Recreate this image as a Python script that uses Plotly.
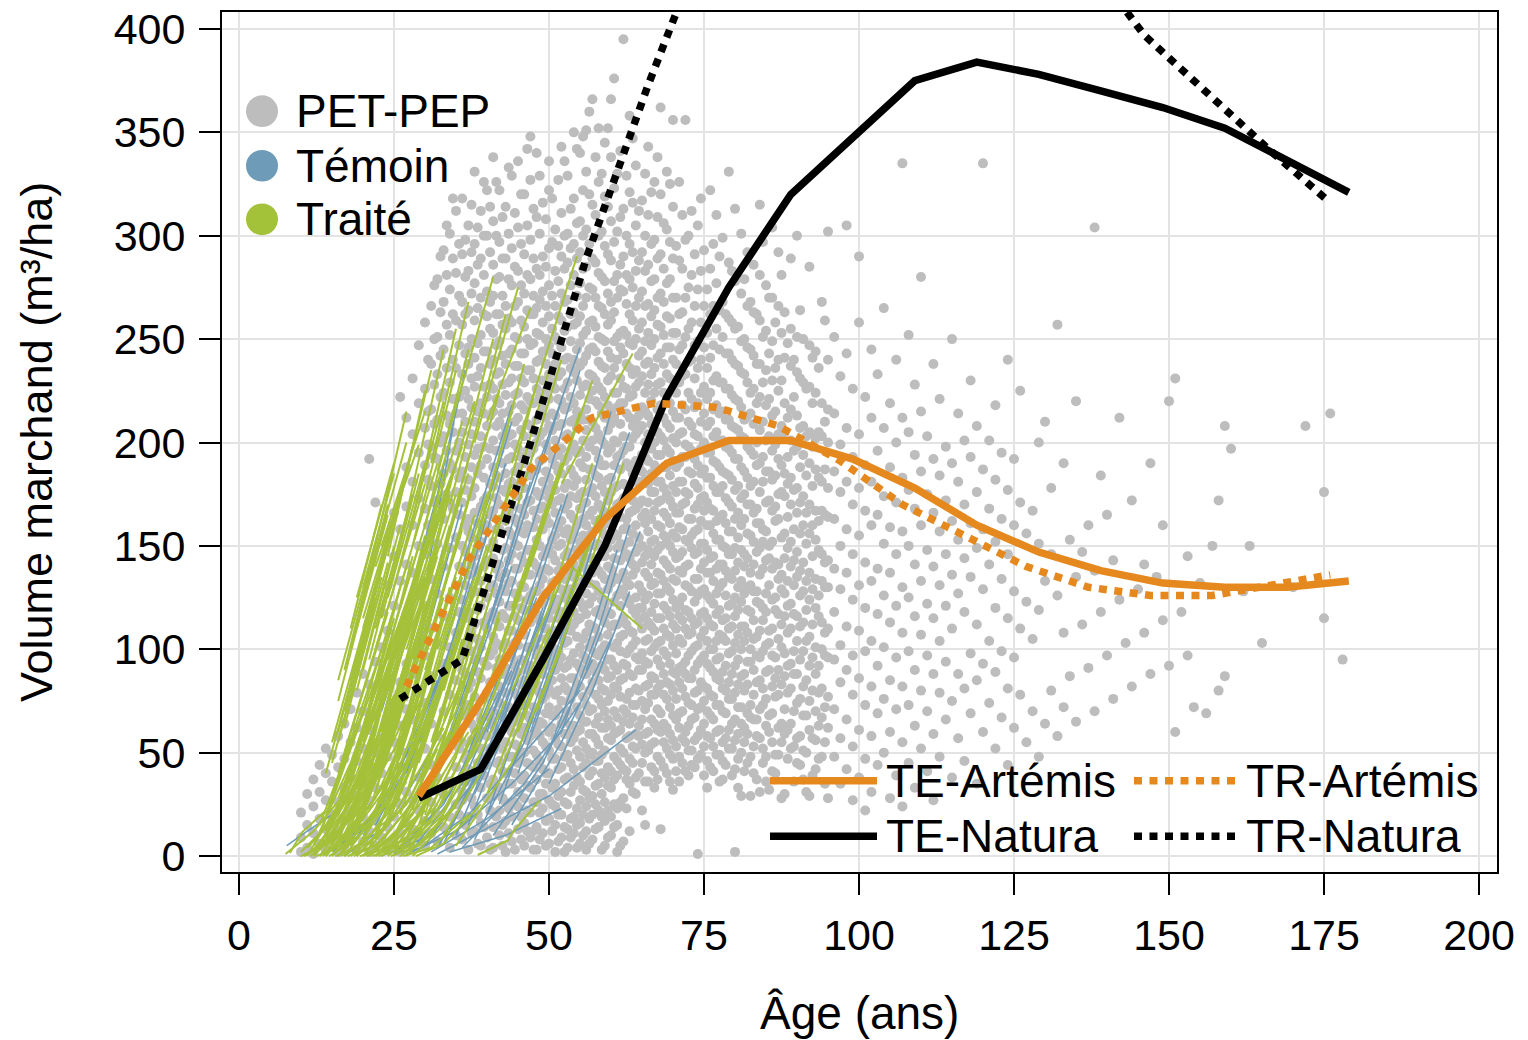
import plotly.graph_objects as go

# ---------------- data ----------------
x_ticks = [0, 25, 50, 75, 100, 125, 150, 175, 200]
y_ticks = [0, 50, 100, 150, 200, 250, 300, 350, 400]

# PET-PEP plots: (age, [volumes])
pet_young = [
    (10, [2, 9, 21]), (11, [4, 15, 30]), (12, [1, 11, 24, 37]), (13, [6, 18, 31, 44]),
    (14, [3, 13, 27, 40, 52]), (15, [8, 20, 36, 49]), (16, [2, 12, 26, 43, 58]),
    (17, [5, 17, 33, 47, 64]), (18, [9, 22, 38, 55, 71]), (19, [3, 14, 29, 46, 62, 79]),
    (20, [7, 19, 35, 52, 70, 88]), (21, [2, 12, 27, 44, 61, 83, 192]),
    (22, [5, 17, 33, 50, 68, 94, 171]), (23, [9, 24, 40, 57, 77, 101, 118]),
    (24, [3, 14, 30, 48, 66, 86, 109, 131]), (25, [6, 19, 36, 55, 74, 97, 121, 145, 166]),
    (26, [2, 11, 25, 43, 63, 84, 108, 133, 158, 222]),
    (27, [7, 16, 31, 50, 71, 93, 117, 141, 169, 188, 212]),
    (28, [4, 13, 27, 45, 66, 88, 112, 137, 160, 181, 204, 231]),
    (29, [9, 22, 38, 57, 79, 102, 126, 150, 173, 195, 219, 247]),
    (30, [5, 17, 33, 52, 74, 97, 121, 146, 168, 189, 207, 226, 258]),
    (31, [11, 26, 44, 64, 87, 110, 134, 157, 179, 198, 216, 238, 266]),
    (32, [7, 20, 38, 58, 80, 103, 127, 151, 172, 192, 211, 233, 251, 279]),
    (33, [14, 30, 49, 70, 93, 116, 140, 163, 185, 203, 224, 245, 268, 293]),
    (34, [4, 19, 36, 56, 78, 101, 125, 149, 171, 190, 209, 229, 252, 274, 301]),
    (30.5, [160, 182, 199, 215, 240]), (31.5, [171, 193, 209, 228, 250, 276]),
    (32.5, [180, 200, 222, 242, 263, 290]), (33.5, [175, 196, 213, 236, 257, 281, 305]),
    (34.5, [168, 187, 205, 221, 240, 262, 289, 318]),
]
pet_mid = [
    (35, [10, 25, 43, 63, 85, 108, 131, 154, 176, 196, 214, 236, 259, 282, 312]),
    (36, [8, 27, 31, 55, 68, 90, 97, 124, 139, 150, 171, 186, 205, 214, 233, 257, 268, 291, 318]),
    (37, [3, 19, 42, 49, 73, 81, 104, 118, 136, 157, 163, 182, 199, 221, 238, 246, 264, 283, 305]),
    (38, [12, 24, 37, 61, 77, 95, 112, 128, 145, 166, 178, 194, 210, 227, 241, 259, 277, 296, 331]),
    (39, [5, 16, 33, 52, 66, 86, 101, 121, 133, 152, 169, 189, 203, 219, 236, 252, 270, 289, 312]),
    (40, [9, 28, 44, 58, 79, 92, 110, 125, 143, 160, 174, 192, 208, 222, 244, 261, 273, 300, 322]),
    (41, [4, 14, 29, 37, 51, 63, 70, 84, 99, 106, 118, 131, 144, 152, 167, 179, 188, 201, 215, 226, 240, 253, 271, 286, 307, 338]),
    (42, [10, 22, 33, 46, 57, 74, 82, 95, 111, 123, 135, 141, 158, 170, 183, 196, 210, 219, 234, 249, 262, 280, 297, 322]),
    (43, [2, 17, 26, 40, 55, 66, 79, 91, 103, 115, 128, 137, 149, 162, 176, 185, 199, 207, 223, 238, 255, 266, 289, 314]),
    (44, [7, 19, 35, 48, 60, 71, 87, 96, 109, 121, 133, 146, 155, 169, 181, 193, 204, 218, 231, 245, 258, 276, 294, 329]),
    (45, [13, 24, 31, 45, 53, 68, 77, 89, 102, 114, 125, 139, 150, 161, 174, 188, 197, 212, 224, 237, 250, 268, 283, 304, 336]),
    (46, [5, 16, 28, 39, 50, 62, 73, 85, 94, 107, 119, 130, 142, 156, 165, 178, 190, 203, 216, 229, 243, 256, 272, 291, 320]),
    (47, [9, 21, 33, 44, 58, 66, 80, 92, 101, 113, 126, 136, 148, 159, 172, 184, 195, 208, 220, 235, 247, 262, 279, 298, 327, 348]),
    (48, [3, 14, 26, 37, 49, 61, 70, 83, 97, 105, 117, 128, 140, 153, 163, 176, 187, 200, 211, 226, 239, 253, 265, 284, 309, 340]),
    (49, [11, 23, 30, 42, 55, 64, 76, 88, 99, 111, 122, 134, 145, 158, 169, 181, 192, 205, 217, 230, 244, 258, 273, 290, 316]),
    (50, [6, 18, 27, 40, 51, 60, 72, 81, 94, 103, 115, 126, 138, 149, 161, 173, 183, 196, 208, 221, 233, 247, 261, 276, 294, 322, 336]),
    (51, [2, 15, 24, 35, 47, 57, 68, 78, 90, 100, 109, 121, 133, 143, 155, 166, 177, 189, 201, 213, 226, 238, 251, 266, 283, 303]),
    (52, [9, 20, 31, 43, 53, 64, 75, 86, 96, 107, 118, 129, 140, 151, 162, 173, 185, 197, 209, 220, 234, 246, 259, 272, 290, 311, 343]),
    (53, [4, 13, 25, 38, 49, 59, 70, 80, 92, 104, 113, 124, 136, 147, 158, 170, 180, 193, 204, 217, 229, 241, 256, 269, 287, 301, 329]),
    (54, [11, 19, 34, 42, 57, 63, 79, 86, 98, 112, 118, 135, 141, 156, 163, 179, 184, 199, 211, 219, 234, 240, 257, 263, 281, 296, 318, 350]),
    (55, [6, 16, 27, 36, 48, 61, 68, 82, 91, 101, 115, 123, 130, 146, 152, 168, 175, 190, 196, 214, 223, 237, 248, 261, 277, 292, 307, 340]),
    (56, [3, 12, 24, 31, 45, 52, 65, 73, 88, 95, 108, 117, 127, 139, 149, 160, 171, 182, 193, 206, 216, 228, 242, 254, 270, 285, 303, 331, 351]),
    (57, [8, 20, 29, 41, 50, 59, 71, 84, 93, 104, 111, 125, 137, 144, 157, 167, 178, 187, 201, 210, 225, 232, 246, 259, 274, 289, 315, 366]),
    (58, [14, 22, 35, 46, 54, 67, 76, 85, 97, 106, 119, 128, 138, 151, 161, 170, 183, 192, 204, 218, 227, 239, 251, 266, 282, 300, 326, 352]),
    (59, [5, 17, 26, 38, 51, 62, 70, 80, 90, 102, 113, 122, 134, 145, 155, 166, 176, 189, 199, 212, 222, 236, 249, 262, 278, 295, 319, 345]),
    (60, [10, 19, 33, 41, 56, 63, 78, 87, 95, 111, 117, 132, 139, 153, 161, 176, 183, 197, 209, 215, 232, 241, 259, 268, 288, 307, 338, 366]),
    (61, [2, 15, 23, 39, 46, 60, 67, 81, 90, 103, 112, 126, 134, 149, 155, 170, 179, 193, 200, 217, 224, 240, 251, 270, 281, 302, 330]),
    (62, [7, 28, 42, 50, 65, 71, 86, 93, 107, 115, 129, 137, 150, 158, 173, 180, 196, 203, 219, 227, 243, 254, 273, 290, 313, 395]),
    (63, [12, 35, 47, 58, 64, 79, 88, 100, 109, 122, 131, 144, 152, 166, 175, 188, 198, 212, 222, 236, 248, 262, 279, 296, 321, 358]),
    (64, [30, 38, 52, 59, 73, 81, 96, 104, 117, 125, 139, 147, 160, 168, 181, 191, 204, 211, 227, 235, 250, 266, 283, 305, 334]),
]
pet_mid_half = [
    (35.5, [20, 52, 75, 94, 118, 140, 165, 183, 200, 222, 247, 271, 296]),
    (36.5, [15, 36, 47, 71, 88, 102, 115, 131, 147, 160, 177, 193, 210, 225, 243, 262, 280, 298]),
    (37.5, [11, 28, 56, 64, 84, 99, 109, 127, 141, 154, 174, 188, 204, 217, 231, 250, 272, 292, 315]),
    (38.5, [6, 20, 45, 57, 70, 89, 105, 119, 138, 149, 161, 185, 197, 215, 232, 248, 265, 286, 304]),
    (39.5, [14, 39, 47, 60, 76, 94, 113, 127, 140, 158, 172, 183, 198, 214, 227, 244, 262, 281, 300, 326]),
    (40.5, [3, 22, 35, 52, 67, 84, 97, 116, 130, 149, 165, 180, 197, 213, 228, 238, 255, 268, 292, 314]),
    (41.5, [19, 33, 45, 60, 77, 91, 103, 114, 127, 139, 158, 173, 184, 196, 208, 221, 233, 247, 262, 279, 300, 326]),
    (42.5, [5, 15, 28, 41, 52, 68, 88, 101, 117, 129, 148, 163, 177, 190, 203, 214, 228, 242, 257, 271, 289, 309]),
    (43.5, [11, 23, 35, 48, 62, 72, 85, 97, 109, 121, 132, 143, 157, 166, 180, 192, 203, 215, 229, 243, 260, 279, 301, 333]),
    (44.5, [3, 26, 40, 54, 65, 79, 92, 103, 116, 127, 139, 151, 163, 175, 186, 199, 210, 223, 237, 251, 266, 285, 311]),
    (45.5, [8, 19, 37, 49, 59, 73, 83, 95, 108, 120, 131, 145, 157, 168, 181, 193, 206, 218, 231, 243, 259, 276, 296, 320]),
    (46.5, [12, 22, 34, 45, 56, 68, 80, 90, 101, 113, 124, 136, 148, 160, 171, 184, 196, 209, 222, 235, 250, 264, 281, 305, 342]),
    (47.5, [3, 12, 26, 43, 51, 72, 83, 88, 101, 120, 128, 142, 159, 167, 186, 197, 205, 219, 231, 248, 262, 271, 289, 313]),
    (48.5, [8, 21, 30, 46, 58, 65, 79, 94, 100, 114, 131, 137, 150, 168, 174, 191, 203, 214, 222, 240, 252, 269, 281, 301, 329]),
    (49.5, [5, 17, 35, 40, 53, 69, 78, 92, 105, 110, 127, 139, 147, 164, 177, 186, 199, 212, 225, 238, 250, 266, 285, 308]),
    (50.5, [12, 25, 33, 47, 62, 68, 85, 97, 108, 119, 132, 146, 153, 170, 179, 192, 206, 214, 229, 243, 255, 271, 297, 318]),
    (51.5, [7, 20, 29, 42, 54, 71, 80, 93, 99, 115, 124, 138, 150, 159, 172, 186, 194, 208, 221, 232, 249, 261, 278, 295, 327]),
    (52.5, [2, 14, 26, 37, 48, 59, 66, 82, 91, 103, 111, 126, 134, 145, 156, 168, 178, 191, 203, 216, 226, 240, 254, 268, 284, 300, 336]),
    (53.5, [9, 18, 31, 45, 55, 63, 76, 86, 95, 109, 121, 129, 140, 153, 165, 174, 187, 196, 210, 222, 236, 249, 262, 276, 294, 313]),
    (54.5, [4, 15, 23, 38, 51, 60, 72, 83, 93, 106, 114, 125, 138, 148, 160, 173, 182, 195, 207, 215, 230, 245, 258, 271, 289, 306, 342]),
    (55.5, [10, 20, 32, 43, 55, 65, 77, 88, 97, 105, 120, 133, 143, 155, 163, 176, 188, 201, 211, 227, 239, 252, 266, 284, 300, 322, 348]),
    (56.5, [6, 18, 28, 39, 49, 59, 70, 80, 91, 101, 112, 122, 132, 144, 155, 165, 176, 187, 198, 211, 221, 233, 245, 258, 275, 296, 320, 360]),
    (57.5, [13, 25, 34, 46, 57, 64, 78, 89, 98, 110, 118, 131, 141, 150, 162, 174, 184, 196, 207, 220, 230, 244, 256, 270, 287, 310, 338]),
    (58.5, [3, 19, 30, 40, 49, 62, 73, 81, 92, 100, 116, 124, 136, 145, 158, 168, 179, 189, 201, 214, 225, 237, 250, 265, 280, 302, 330]),
    (59.5, [9, 22, 34, 43, 57, 66, 75, 86, 95, 107, 118, 129, 140, 149, 161, 172, 182, 195, 206, 218, 230, 244, 257, 272, 291, 314, 352]),
    (60.5, [14, 25, 37, 48, 59, 70, 82, 92, 101, 112, 123, 135, 144, 156, 167, 178, 189, 201, 212, 224, 236, 249, 263, 278, 297, 323, 376]),
    (61.5, [5, 26, 44, 52, 61, 77, 85, 99, 106, 121, 127, 143, 151, 164, 171, 187, 194, 209, 219, 231, 246, 253, 274, 286, 309, 341]),
    (62.5, [23, 37, 41, 57, 69, 76, 92, 98, 112, 125, 133, 146, 159, 163, 179, 190, 198, 214, 226, 238, 252, 267, 281, 300, 329]),
    (63.5, [31, 45, 53, 67, 73, 87, 102, 108, 119, 136, 141, 156, 167, 172, 185, 202, 208, 223, 233, 247, 259, 275, 292, 316, 347]),
    (64.5, [40, 58, 63, 80, 90, 95, 114, 120, 131, 149, 154, 170, 181, 189, 206, 213, 229, 242, 255, 270, 288, 312]),
]
pet_old = [
    (65, [22, 45, 54, 66, 75, 90, 98, 110, 120, 128, 142, 150, 164, 172, 186, 194, 208, 217, 232, 244, 258, 273, 292, 317]),
    (66, [36, 51, 60, 74, 83, 93, 105, 113, 126, 135, 148, 157, 171, 180, 191, 204, 213, 228, 239, 253, 267, 286, 310, 343]),
    (67, [33, 41, 55, 64, 78, 86, 101, 109, 122, 132, 145, 153, 167, 176, 189, 200, 210, 224, 236, 250, 264, 279, 298, 326]),
    (68, [13, 46, 60, 69, 83, 92, 104, 115, 127, 136, 150, 159, 172, 181, 194, 203, 218, 229, 243, 256, 272, 291, 320, 362]),
    (69, [40, 52, 62, 76, 84, 97, 107, 119, 130, 141, 153, 164, 175, 188, 197, 209, 222, 233, 246, 261, 277, 303, 331]),
    (70, [32, 47, 56, 68, 80, 89, 102, 112, 124, 134, 147, 156, 169, 179, 191, 202, 215, 226, 240, 253, 270, 289, 314, 356]),
    (71, [36, 48, 62, 69, 84, 91, 105, 116, 122, 138, 145, 159, 166, 181, 190, 204, 212, 229, 245, 262, 288, 326]),
    (72, [41, 55, 60, 77, 88, 94, 110, 119, 131, 140, 153, 171, 176, 193, 199, 216, 233, 251, 270, 298, 356]),
    (73, [44, 51, 66, 73, 86, 99, 108, 115, 128, 149, 155, 163, 185, 196, 208, 221, 240, 258, 281, 312]),
    (74, [1, 47, 58, 71, 80, 93, 102, 113, 126, 134, 147, 158, 170, 178, 189, 203, 219, 236, 249, 274, 305]),
    (75, [39, 53, 64, 75, 82, 97, 109, 118, 129, 142, 151, 167, 174, 187, 200, 214, 227, 246, 266, 293]),
    (76, [43, 57, 68, 78, 91, 100, 112, 124, 137, 144, 160, 168, 183, 195, 210, 224, 241, 262, 284, 322]),
    (77, [49, 60, 73, 86, 95, 104, 117, 127, 139, 153, 162, 176, 190, 205, 218, 232, 255, 277, 310]),
    (78, [37, 46, 55, 70, 81, 89, 106, 114, 132, 141, 150, 165, 179, 186, 201, 215, 229, 251, 268, 299]),
    (79, [52, 61, 76, 84, 98, 110, 121, 135, 146, 157, 171, 184, 197, 211, 226, 243, 260, 287, 331]),
    (80, [2, 42, 56, 66, 79, 92, 103, 116, 125, 138, 149, 163, 177, 192, 207, 221, 238, 255, 278, 313]),
    (81, [29, 50, 64, 72, 87, 100, 111, 123, 133, 148, 160, 173, 188, 203, 217, 234, 249, 272, 301]),
    (82, [45, 59, 69, 83, 94, 108, 119, 130, 144, 156, 170, 183, 198, 213, 229, 246, 266, 292]),
    (83, [40, 53, 66, 78, 90, 105, 114, 128, 141, 152, 166, 181, 194, 209, 226, 242, 263, 286]),
    (84, [31, 57, 71, 85, 96, 109, 122, 136, 149, 161, 176, 190, 206, 222, 238, 259, 281, 315]),
    (85, [36, 48, 63, 76, 89, 102, 118, 127, 143, 157, 171, 186, 201, 218, 235, 254, 276]),
    (86, [41, 55, 69, 82, 97, 110, 124, 139, 152, 167, 182, 196, 213, 230, 249, 270, 304]),
    (87, [49, 62, 78, 90, 105, 117, 134, 141, 163, 175, 192, 204, 225, 240, 266, 292]),
    (88, [30, 59, 71, 87, 98, 116, 127, 144, 156, 174, 185, 205, 219, 241, 263]),
    (89, [52, 64, 81, 93, 110, 122, 140, 152, 170, 183, 201, 216, 237, 255, 289]),
    (90, [45, 57, 74, 88, 104, 116, 135, 147, 166, 178, 198, 213, 234, 251, 300]),
    (91, [37, 51, 68, 82, 99, 113, 128, 142, 160, 174, 194, 208, 229, 250]),
    (92, [29, 61, 75, 92, 106, 124, 137, 156, 170, 190, 205, 227, 247, 285]),
    (93, [42, 56, 70, 88, 101, 120, 134, 153, 167, 187, 202, 224, 244]),
    (94, [48, 67, 81, 100, 113, 133, 146, 167, 181, 203, 219, 268]),
    (95, [28, 62, 77, 96, 110, 130, 143, 164, 178, 200, 216, 240, 302]),
    (96, [48, 71, 95, 118, 139, 163, 186, 214, 251]),
    (97, [35, 57, 84, 102, 129, 150, 176, 199, 232]),
    (98, [42, 66, 90, 111, 137, 158, 181, 207, 243, 305]),
    (99, [27, 53, 78, 97, 124, 146, 170, 193, 226]),
]
pet_old_half = [
    (65.5, [15, 36, 50, 59, 71, 82, 94, 104, 116, 124, 137, 145, 161, 166, 182, 193, 200, 215, 224, 238, 249, 266, 283, 300, 330]),
    (66.5, [43, 54, 66, 78, 87, 99, 111, 118, 131, 141, 152, 163, 176, 185, 197, 209, 220, 233, 247, 261, 278, 296, 321]),
    (67.5, [37, 48, 61, 71, 81, 95, 103, 115, 127, 137, 148, 160, 171, 181, 194, 205, 216, 228, 241, 257, 270, 289, 309, 338]),
    (68.5, [43, 55, 64, 78, 88, 99, 110, 121, 133, 143, 155, 166, 178, 188, 201, 212, 224, 238, 252, 268, 284, 306]),
    (69.5, [36, 49, 59, 72, 83, 93, 106, 116, 128, 139, 150, 161, 172, 184, 195, 207, 219, 231, 246, 260, 279, 297, 325]),
    (70.5, [41, 53, 66, 76, 88, 98, 110, 120, 133, 144, 154, 166, 176, 188, 200, 212, 224, 238, 253, 270, 295]),
    (71.5, [45, 57, 70, 81, 92, 103, 114, 125, 137, 147, 158, 170, 181, 193, 205, 218, 232, 247, 263, 284, 310]),
    (72.5, [39, 51, 63, 74, 86, 97, 107, 118, 130, 141, 152, 163, 175, 186, 198, 210, 224, 239, 255, 275, 300]),
    (73.5, [43, 56, 67, 79, 90, 101, 112, 123, 134, 146, 157, 168, 180, 192, 204, 217, 231, 247, 266, 291]),
    (74.5, [49, 61, 72, 84, 95, 106, 117, 128, 139, 151, 162, 173, 185, 197, 210, 224, 240, 258, 283, 318]),
    (75.5, [33, 46, 58, 70, 81, 93, 104, 115, 126, 137, 148, 160, 171, 183, 195, 208, 221, 236, 253, 274]),
    (76.5, [41, 53, 66, 77, 89, 100, 111, 122, 133, 145, 156, 167, 179, 191, 203, 216, 230, 247, 266, 296]),
    (77.5, [36, 49, 61, 73, 85, 96, 107, 119, 130, 141, 153, 164, 176, 188, 201, 214, 229, 245, 264, 290]),
    (78.5, [44, 57, 69, 80, 92, 104, 115, 126, 138, 149, 161, 173, 185, 198, 211, 226, 243, 262]),
    (79.5, [39, 52, 64, 76, 88, 99, 111, 122, 134, 146, 157, 169, 182, 195, 208, 223, 240, 258, 283]),
    (80.5, [33, 47, 59, 72, 83, 95, 107, 119, 130, 142, 154, 166, 179, 192, 206, 220, 237, 256]),
    (81.5, [41, 55, 62, 80, 88, 104, 111, 127, 140, 146, 163, 175, 186, 202, 211, 233, 250, 279]),
    (82.5, [29, 48, 67, 73, 94, 100, 118, 131, 137, 155, 170, 179, 196, 214, 224, 245, 268]),
    (83.5, [37, 58, 66, 84, 97, 106, 123, 128, 147, 161, 168, 189, 200, 219, 238, 262]),
    (84.5, [45, 52, 73, 81, 99, 114, 120, 139, 152, 158, 181, 193, 210, 229, 251, 297]),
    (85.5, [32, 60, 68, 90, 103, 109, 131, 144, 150, 172, 186, 203, 221, 243, 270]),
    (86.5, [40, 49, 77, 86, 96, 119, 125, 142, 162, 169, 184, 199, 215, 236, 258]),
    (87.5, [28, 55, 64, 83, 101, 112, 129, 136, 154, 176, 189, 208, 230, 253, 281]),
    (88.5, [47, 61, 79, 92, 108, 121, 133, 149, 164, 180, 193, 212, 248]),
    (89.5, [36, 53, 70, 88, 99, 117, 131, 143, 158, 177, 196, 222, 240]),
    (90.5, [44, 58, 76, 95, 111, 126, 138, 156, 171, 188, 207, 231, 264]),
    (91.5, [31, 50, 68, 85, 104, 119, 133, 151, 166, 184, 203, 226]),
    (92.5, [39, 57, 80, 96, 112, 129, 145, 160, 179, 198, 219, 241]),
    (93.5, [47, 63, 79, 92, 116, 126, 148, 162, 183, 205, 236]),
    (94.5, [35, 55, 72, 97, 108, 130, 142, 165, 187, 210, 259]),
]
pet_tail = [
    (100, [38, 61, 86, 109, 131, 155, 178, 204, 258, 290]), (101, [22, 47, 73, 99, 120, 142, 167, 189, 222]),
    (102, [31, 58, 82, 104, 133, 160, 181, 212, 245]), (103, [44, 69, 92, 117, 139, 165, 196, 233]),
    (104, [50, 76, 101, 126, 151, 174, 207, 265]), (105, [28, 60, 85, 113, 137, 159, 188, 219]),
    (106, [39, 71, 96, 121, 146, 171, 200, 240]), (107, [24, 55, 82, 108, 130, 157, 183, 212, 335]),
    (108, [45, 73, 99, 125, 150, 177, 205, 252]), (109, [33, 63, 90, 116, 141, 168, 194, 228]),
    (110, [52, 80, 107, 133, 160, 186, 215, 280]), (111, [41, 70, 97, 122, 148, 175, 203]),
    (112, [27, 59, 88, 115, 140, 166, 192, 238]), (113, [48, 79, 104, 131, 157, 184, 221]),
    (114, [66, 94, 121, 146, 172, 198]), (115, [38, 75, 110, 136, 162, 190, 250]),
    (116, [57, 88, 127, 153, 181, 214]), (117, [46, 81, 118, 144, 170, 201]),
    (118, [69, 98, 135, 161, 193, 230]), (119, [35, 85, 112, 149, 176, 208]),
    (120, [60, 93, 129, 158, 187, 335]), (121, [74, 104, 141, 168, 201]),
    (122, [52, 89, 120, 152, 182, 218]), (123, [67, 99, 134, 163, 195]),
    (124, [44, 81, 115, 146, 177, 240]), (125, [62, 96, 128, 160, 192]),
    (126, [78, 110, 171, 225]), (127, [55, 123, 156]), (128, [70, 105, 167]),
    (129, [48, 119, 151, 200]), (130, [64, 133, 210]), (131, [80, 146, 178]),
    (132, [58, 126, 257]), (133, [72, 108, 190]), (134, [87, 153]),
    (135, [65, 135, 220]), (136, [112, 147]), (137, [91, 160]), (138, [70, 138, 304]),
    (139, [118, 184]), (140, [97, 165]), (141, [76, 143]), (142, [124, 212]),
    (143, [103]), (144, [82, 172]), (145, [129]), (146, [108, 141]), (147, [88, 190]),
    (148, [135]), (149, [114, 160]), (150, [92, 220]), (151, [60, 231]), (152, [118]),
    (153, [97, 145]), (154, [72]), (155, [132]), (156, [69]), (157, [150]),
    (158, [80, 172]), (159, [87, 208]), (160, [197]), (162, [128]), (163, [150]),
    (165, [103]), (170, [130]), (172, [208]), (175, [176, 115]), (176, [214]), (178, [95]),
]

# Traité (treated) plot remeasurement paths: [(age, volume), ...]
traite_paths = [
    [(10, 0), (18, 12), (26, 45)], [(11, 1), (19, 20), (27, 62)], [(12, 0), (20, 25), (28, 75)],
    [(12, 2), (19, 30), (25, 70)], [(13, 0), (21, 18), (29, 55)], [(13, 3), (20, 35), (26, 82)],
    [(14, 0), (22, 28), (30, 80)], [(14, 1), (21, 40), (27, 95)], [(15, 0), (23, 22), (31, 70)],
    [(15, 2), (22, 45), (28, 105)], [(16, 0), (24, 30), (32, 88)], [(16, 4), (23, 50), (29, 110)],
    [(17, 0), (25, 20), (33, 62)], [(17, 3), (24, 55), (30, 120)], [(18, 0), (26, 35), (34, 95)],
    [(18, 5), (25, 60), (31, 125)], [(19, 0), (27, 25), (35, 70)], [(19, 2), (26, 48), (33, 115)],
    [(20, 0), (28, 30), (36, 85)], [(20, 6), (27, 62), (33, 130)], [(21, 0), (29, 20), (37, 60)],
    [(21, 4), (28, 50), (35, 118)], [(22, 0), (30, 28), (38, 80)], [(22, 8), (28, 60), (34, 128)],
    [(23, 0), (31, 18), (39, 55)], [(24, 2), (31, 40), (38, 100)], [(25, 0), (33, 22), (41, 70)],
    [(26, 3), (33, 45), (40, 112)], [(27, 0), (35, 25), (43, 75)], [(28, 5), (35, 48), (42, 115)],
    [(8.2, 1.5), (10.2, 11.6), (14, 22)], [(7.5, 1), (12, 12), (17, 30)], [(10, 2), (14, 14), (20, 40)],
    [(11, 4), (16, 20), (22, 55)],
    [(14, 20), (22, 85)], [(15, 30), (23, 100)], [(16, 40), (24, 118)], [(17, 50), (25, 130)],
    [(18, 35), (26, 110)], [(19, 60), (27, 140)], [(20, 45), (28, 125)], [(21, 70), (29, 150)],
    [(22, 55), (30, 135)], [(23, 80), (31, 160)], [(24, 65), (32, 145)], [(25, 90), (33, 170)],
    [(26, 70), (34, 150)], [(27, 100), (35, 175)], [(28, 80), (36, 158)], [(29, 110), (37, 185)],
    [(30, 90), (38, 165)], [(17, 70), (24, 150)], [(18, 85), (25, 160)], [(19, 95), (26, 175)],
    [(20, 110), (27, 185)], [(21, 120), (28, 198)], [(16, 60), (22, 130)], [(15, 55), (21, 120)],
    [(18, 100), (24, 170)], [(22, 100), (30, 180)], [(24, 110), (32, 190)], [(26, 120), (34, 200)],
    [(28, 130), (36, 210)], [(30, 140), (38, 220)], [(23, 40), (31, 115)], [(25, 50), (33, 125)],
    [(27, 60), (35, 135)], [(29, 45), (37, 120)], [(31, 55), (39, 130)], [(33, 65), (41, 140)],
    [(32, 100), (40, 175)], [(34, 110), (42, 185)], [(20, 25), (28, 100)], [(21, 35), (29, 110)],
    [(13, 15), (20, 70)], [(14, 40), (20, 105)], [(16, 75), (22, 145)],
    [(21, 135), (27, 200)], [(22, 140), (29, 199)], [(20, 115), (26, 175)], [(19, 125), (25, 190)],
    [(23, 150), (30, 215)], [(32, 186), (41, 280)], [(44, 190), (54.5, 290)], [(52, 180), (63.5, 243)],
    [(26, 140), (33, 220)], [(28, 150), (35, 235)], [(30, 160), (37, 245)], [(34, 170), (41, 250)],
    [(36, 180), (43, 262)], [(38, 200), (45, 275)], [(40, 210), (47, 265)], [(35, 150), (42, 225)],
    [(33, 130), (40, 205)], [(37, 140), (44, 215)], [(39, 160), (46, 238)], [(41, 150), (48, 228)],
    [(43, 160), (50, 235)], [(45, 170), (52, 240)], [(47, 140), (55, 215)], [(49, 160), (57, 230)],
    [(50, 120), (57, 190)],
    [(31, 20), (40, 70), (48, 130)], [(33, 10), (42, 55), (50, 110)], [(35, 5), (44, 45), (52, 100)],
    [(38.5, 0.5), (43.4, 7.7), (44, 11), (48.5, 27)], [(40, 30), (48, 90), (55, 150)],
    [(42, 40), (50, 100), (58, 165)], [(45, 60), (53, 120), (60, 180)], [(48, 70), (56, 135), (62, 190)],
    [(36, 40), (44, 100)], [(38, 60), (46, 125)], [(40, 80), (48, 150)], [(42, 100), (50, 170)],
    [(44, 120), (52, 190)], [(46, 135), (54, 205)], [(44, 80), (53, 140)], [(54, 139), (65, 110)],
    [(32, 75), (40, 150)], [(34, 90), (42, 165)], [(36, 100), (44, 180)], [(30, 60), (38, 135)],
    [(28, 40), (36, 110)], [(26, 30), (34, 95)], [(24, 20), (32, 80)],
    [(11, 0), (17, 30)], [(12, 5), (18, 45)], [(13, 10), (19, 60)], [(14, 8), (20, 58)],
    [(15, 15), (21, 72)], [(16, 20), (22, 80)], [(17, 25), (23, 92)], [(18, 18), (24, 85)],
    [(19, 30), (25, 100)], [(20, 35), (26, 108)], [(21, 40), (27, 112)], [(22, 30), (28, 98)],
    [(23, 45), (29, 118)], [(24, 50), (30, 122)], [(25, 40), (31, 110)], [(26, 55), (32, 128)],
    [(27, 45), (33, 115)], [(28, 60), (34, 130)], [(29, 30), (35, 95)], [(30, 40), (36, 105)],
    [(31, 35), (37, 98)], [(32, 45), (38, 108)], [(12, 0), (16, 15), (22, 60)], [(13, 0), (18, 20), (24, 72)],
    [(14, 0), (19, 18), (25, 65)], [(15, 0), (20, 22), (26, 78)], [(16, 0), (21, 15), (27, 60)],
    [(17, 0), (22, 20), (28, 70)], [(18, 0), (23, 12), (29, 52)], [(19, 0), (24, 16), (30, 58)],
    [(20, 0), (25, 10), (31, 45)], [(21, 0), (26, 14), (32, 52)], [(22, 0), (27, 9), (33, 40)],
    [(23, 2), (28, 20), (34, 60)], [(24, 0), (29, 12), (35, 48)], [(25, 3), (30, 25), (36, 70)],
    [(26, 0), (31, 10), (37, 42)], [(27, 2), (32, 22), (38, 62)], [(28, 0), (33, 15), (39, 50)],
    [(15, 45), (21, 110)], [(16, 55), (22, 125)], [(17, 62), (23, 135)], [(18, 75), (24, 142)],
    [(19, 80), (25, 150)], [(20, 90), (26, 160)], [(21, 95), (27, 165)], [(22, 110), (28, 175)],
    [(23, 115), (29, 185)], [(24, 125), (30, 190)], [(25, 130), (31, 198)], [(26, 100), (32, 170)],
    [(27, 115), (33, 185)], [(28, 105), (34, 175)], [(29, 120), (35, 190)], [(30, 110), (36, 178)],
    [(31, 125), (37, 192)], [(19, 50), (25, 115)], [(20, 62), (26, 130)], [(21, 50), (27, 118)],
    [(22, 75), (28, 145)], [(23, 60), (29, 130)], [(24, 85), (30, 155)], [(25, 70), (31, 140)],
    [(26, 85), (32, 150)], [(27, 75), (33, 140)], [(28, 95), (34, 160)], [(29, 85), (35, 150)],
    [(30, 70), (36, 135)], [(31, 85), (37, 148)], [(32, 60), (38, 122)], [(33, 80), (39, 140)],
    [(34, 50), (40, 110)], [(35, 70), (41, 130)], [(36, 60), (42, 118)],
    [(14, 10), (19, 40)], [(15, 5), (20, 35)], [(16, 12), (21, 50)], [(17, 8), (22, 42)],
    [(18, 10), (23, 50)], [(19, 15), (24, 55)], [(20, 20), (25, 62)], [(21, 22), (26, 68)],
    [(22, 20), (27, 65)], [(23, 25), (28, 75)], [(24, 30), (29, 80)], [(25, 25), (30, 72)],
    [(26, 20), (31, 65)], [(27, 30), (32, 80)], [(28, 22), (33, 70)], [(29, 15), (34, 60)],
    [(30, 20), (35, 68)],
    [(17, 90), (22, 150)], [(16, 85), (21, 140)], [(18, 110), (23, 170)], [(19, 110), (24, 165)],
    [(20, 130), (25, 185)], [(22, 150), (27, 215)], [(24, 145), (30, 225)], [(25, 160), (31, 235)],
    [(27, 165), (33, 245)], [(29, 175), (35, 255)], [(31, 190), (37, 268)],
    [(10.5, 0), (15, 8), (21, 35)], [(11.5, 0), (16, 10), (22, 40)], [(12.5, 0), (17, 6), (23, 30)],
    [(13.5, 0), (18, 10), (24, 38)], [(14.5, 0), (19, 8), (25, 32)], [(15.5, 0), (20, 6), (26, 28)],
    [(16.5, 0), (21, 9), (27, 36)], [(17.5, 0), (22, 5), (28, 25)], [(18.5, 0), (23, 7), (29, 30)],
    [(19.5, 0), (24, 4), (30, 22)], [(20.5, 0), (25, 6), (31, 28)], [(21.5, 0), (26, 5), (32, 25)],
    [(22.5, 0), (27, 4), (33, 20)], [(24.5, 0), (29, 5), (35, 24)], [(26.5, 0), (31, 4), (37, 20)],
    [(28.5, 0), (33, 6), (39, 25)], [(12, 3), (17, 22), (22, 50)], [(13, 6), (18, 30), (23, 62)],
    [(14, 12), (19, 45), (24, 85)], [(15, 10), (20, 40), (25, 78)], [(16, 28), (21, 65), (26, 105)],
    [(17, 35), (22, 75), (27, 118)], [(18, 45), (23, 88), (28, 128)], [(19, 40), (24, 80), (29, 120)],
    [(20, 55), (25, 98), (30, 140)], [(21, 60), (26, 102), (31, 145)], [(22, 65), (27, 108), (32, 150)],
    [(23, 90), (28, 130), (33, 168)], [(24, 95), (29, 140), (34, 180)], [(25, 105), (30, 150), (35, 190)],
    [(26, 110), (31, 155), (36, 198)],
]

# Témoin (control) plot remeasurement paths
temoin_paths = [
    [(7.7, 5), (11, 12), (16, 22)], [(32, 1), (50, 29), (64, 61)], [(34, 2), (43, 10), (52, 23)],
    [(36, 4), (46, 35), (55, 74)], [(50, 35), (57, 80), (63, 128)], [(50, 51), (56, 100), (61, 148)],
    [(27, 120), (32, 175), (36.5, 235)], [(30, 130), (34.5, 207)], [(36, 140), (44, 218)],
    [(46, 170), (55, 246)], [(54, 130), (63, 205)], [(56, 90), (64.7, 157)],
    [(30, 5), (38, 40), (45, 95)], [(28, 3), (36, 35), (44, 90)], [(26, 2), (34, 30), (42, 80)],
    [(25, 1), (33, 25), (41, 70), (48, 125)], [(32, 4), (40, 45), (47, 110)], [(33, 6), (40, 50), (46, 100)],
    [(35, 10), (42, 60), (49, 120)], [(37, 15), (44, 70), (51, 135)], [(38, 8), (46, 55), (53, 115)],
    [(40, 20), (47, 80), (54, 140)], [(42, 25), (49, 85), (56, 150)], [(41, 10), (49, 45), (57, 95)],
    [(44, 15), (52, 55), (60, 105)], [(30, 25), (37, 80), (44, 140)], [(32, 40), (39, 100), (45, 160)],
    [(34, 60), (41, 120), (47, 181)], [(31, 70), (38, 135), (43, 190)], [(36, 80), (43, 150), (49, 210)],
    [(39, 100), (46, 165), (52, 220)], [(22, 15), (30, 60), (37, 120)], [(24, 20), (31, 70), (38, 130)],
    [(20, 10), (27, 45), (34, 100)], [(18, 5), (25, 35), (32, 85)], [(29, 50), (35, 110), (40, 165)],
    [(27, 40), (34, 100), (40, 155)], [(45, 40), (52, 100), (58, 160)], [(47, 60), (54, 120), (60, 180)],
    [(48, 100), (55, 160), (60, 215)], [(43, 120), (50, 185), (55, 235)], [(33, 100), (39, 160), (44, 210)],
    [(29, 3), (37, 20), (46, 50), (55, 80)], [(31, 2), (40, 18), (50, 42)], [(27, 1), (35, 12), (44, 35), (52, 60)],
    [(15, 2), (22, 20), (28, 55)], [(17, 0), (24, 15), (31, 50)], [(23, 0), (31, 10), (39, 40), (46, 75)],
    [(38, 30), (45, 75), (50, 120)], [(35, 20), (43, 70), (50, 125)], [(52, 60), (58, 110), (63, 160)],
    [(25, 60), (31, 115), (36, 170)], [(28, 90), (33, 150)], [(23, 70), (29, 130)],
    [(40, 60), (47, 120), (53, 175)], [(37, 50), (45, 110), (52, 170)],
]

# Model curves
te_artemis_age = [29, 39, 49, 59, 69, 79, 89, 99, 109, 119, 129, 139, 149, 159, 169, 179]
te_artemis_vol = [29, 75, 125, 163, 190, 201, 201, 192, 178, 160, 147, 138, 132, 130, 130, 133]
tr_artemis_age = [27, 37, 47, 57, 67, 77, 87, 97, 107, 117, 127, 137, 147, 157, 167, 176]
tr_artemis_vol = [82, 143, 187, 212, 219, 217, 208, 191, 170, 155, 140, 130, 126, 126, 131, 136]
te_natura_age = [29, 39, 49, 59, 69, 79, 89, 99, 109, 119, 129, 139, 149, 159, 169, 179]
te_natura_vol = [28, 42, 95, 150, 222, 275, 320, 348, 375, 384, 378, 370, 362, 352, 336, 321]
tr_natura_age = [26, 36, 46, 56, 66, 76, 86, 96, 106, 116, 126, 136, 146, 156, 166, 176]
tr_natura_vol = [76, 95, 190, 289, 373, 450, 505, 540, 545, 520, 480, 437, 397, 369, 342, 316]

# ---------------- styling ----------------
FONT = "Liberation Sans, Arial, sans-serif"
C_GRAY, C_BLUE, C_GREEN, C_ORANGE = "#bdbdbd", "#6e9bb8", "#a4c13a", "#e5891f"
W, H = 1528, 1040
ML, MR, MT, MB = 222, 31, 5, 168
DOT = "8px,7.5px"


def paper_x(px):
    return (px - ML) / (W - ML - MR)


def paper_y(py):
    return (H - MB - py) / (H - MT - MB)


def flatten(paths):
    xs, ys = [], []
    for p in paths:
        for a, v in p:
            xs.append(a)
            ys.append(v)
        xs.append(None)
        ys.append(None)
    return xs, ys


pet_x, pet_y = [], []
for band in (pet_young, pet_mid, pet_mid_half, pet_old, pet_old_half, pet_tail):
    for age, vols in band:
        for v in vols:
            pet_x.append(age)
            pet_y.append(v)

fig = go.Figure()
fig.add_trace(go.Scatter(x=pet_x, y=pet_y, mode="markers", name="PET-PEP",
                         marker=dict(size=10, color=C_GRAY, line=dict(width=0))))
bx, by = flatten(temoin_paths)
fig.add_trace(go.Scatter(x=bx, y=by, mode="lines", name="Témoin",
                         line=dict(color=C_BLUE, width=1.6)))
gx, gy = flatten(traite_paths)
fig.add_trace(go.Scatter(x=gx, y=gy, mode="lines", name="Traité",
                         line=dict(color=C_GREEN, width=2.0)))
fig.add_trace(go.Scatter(x=te_natura_age, y=te_natura_vol, mode="lines", name="TE-Natura",
                         line=dict(color="black", width=7.5)))
fig.add_trace(go.Scatter(x=te_artemis_age, y=te_artemis_vol, mode="lines", name="TE-Artémis",
                         line=dict(color=C_ORANGE, width=7.5)))
fig.add_trace(go.Scatter(x=tr_natura_age, y=tr_natura_vol, mode="lines", name="TR-Natura",
                         line=dict(color="black", width=7.5, dash=DOT)))
fig.add_trace(go.Scatter(x=tr_artemis_age, y=tr_artemis_vol, mode="lines", name="TR-Artémis",
                         line=dict(color=C_ORANGE, width=7.5, dash=DOT)))

shapes, annots = [], []
# top-left legend (points)
for name, col, cy in [("PET-PEP", C_GRAY, 105), ("Témoin", C_BLUE, 160), ("Traité", C_GREEN, 214)]:
    shapes.append(dict(type="circle", xref="paper", yref="paper",
                       x0=paper_x(262 - 16), x1=paper_x(262 + 16),
                       y0=paper_y(cy + 16), y1=paper_y(cy - 16),
                       fillcolor=col, line=dict(width=0), layer="above"))
    annots.append(dict(x=paper_x(294), y=paper_y(cy), xref="paper", yref="paper", text=name,
                       showarrow=False, xanchor="left", yanchor="middle",
                       font=dict(family=FONT, size=46, color="black")))
# bottom-right legend (lines)
for name, col, dash, x0, x1, tx, cy in [
    ("TE-Artémis", C_ORANGE, "solid", 770, 877, 884, 780),
    ("TR-Artémis", C_ORANGE, DOT, 1134, 1236, 1244, 780),
    ("TE-Natura", "black", "solid", 770, 877, 884, 836),
    ("TR-Natura", "black", DOT, 1134, 1236, 1244, 836),
]:
    shapes.append(dict(type="line", xref="paper", yref="paper",
                       x0=paper_x(x0), x1=paper_x(x1), y0=paper_y(cy), y1=paper_y(cy),
                       line=dict(color=col, width=7.5, dash=dash), layer="above"))
    annots.append(dict(x=paper_x(tx), y=paper_y(cy), xref="paper", yref="paper", text=name,
                       showarrow=False, xanchor="left", yanchor="middle",
                       font=dict(family=FONT, size=46, color="black")))
# axis titles
annots.append(dict(x=0.5, y=paper_y(1014), xref="paper", yref="paper", text="Âge (ans)",
                   showarrow=False, xanchor="center", yanchor="middle",
                   font=dict(family=FONT, size=46, color="black")))
annots.append(dict(x=paper_x(36), y=0.5, xref="paper", yref="paper", text="Volume marchand (m³/ha)",
                   showarrow=False, xanchor="center", yanchor="middle", textangle=-90,
                   font=dict(family=FONT, size=45, color="black")))

axis_common = dict(ticks="outside", ticklen=21, tickwidth=2, tickcolor="black",
                   showline=True, linewidth=2, linecolor="black", mirror=True,
                   showgrid=True, gridcolor="#e3e3e3", gridwidth=2, zeroline=False,
                   tickfont=dict(family=FONT, size=43, color="black"), tickmode="array")

fig.update_layout(
    width=W, height=H,
    margin=dict(l=ML, r=MR, t=MT, b=MB, pad=0),
    paper_bgcolor="white", plot_bgcolor="white",
    showlegend=False,
    font=dict(family=FONT, color="black"),
    xaxis=dict(range=[-2.742, 202.9], tickvals=x_ticks, ticklabelstandoff=3, **axis_common),
    yaxis=dict(range=[-7.72, 408.2], tickvals=y_ticks, ticklabelstandoff=5, **axis_common),
    shapes=shapes, annotations=annots,
)

fig.write_html("out.html")
